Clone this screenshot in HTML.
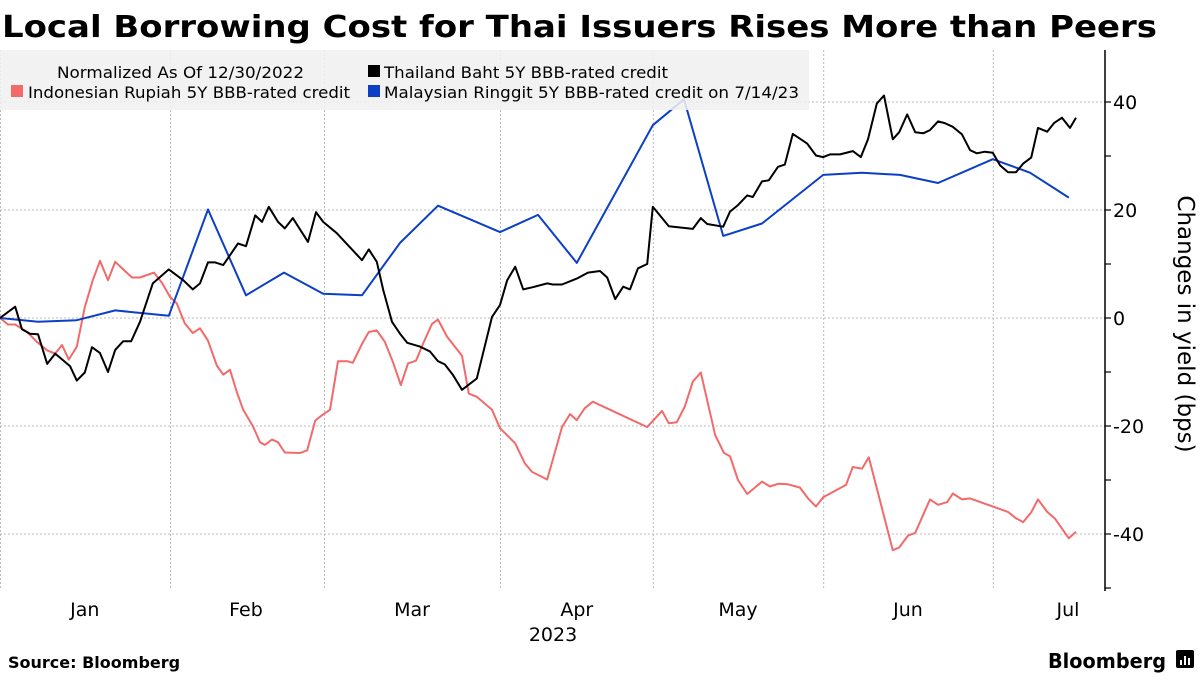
<!DOCTYPE html>
<html><head><meta charset="utf-8"><style>
html,body{margin:0;padding:0;background:#fff;}
body{width:1200px;height:675px;overflow:hidden;font-family:"DejaVu Sans",sans-serif;}
</style></head><body>
<svg id="chart" width="1200" height="675" xmlns="http://www.w3.org/2000/svg" font-family="DejaVu Sans, sans-serif">
<text x="2" y="37" font-size="30" font-weight="bold" fill="#000" textLength="1155" lengthAdjust="spacingAndGlyphs">Local Borrowing Cost for Thai Issuers Rises More than Peers</text>
<g id="grid"></g>
<g id="series"></g>
<g>
<rect x="0" y="50" width="809" height="60" fill="rgba(240,240,240,0.88)"/>
<text x="57" y="78" font-size="16" fill="#000" textLength="247" lengthAdjust="spacingAndGlyphs">Normalized As Of 12/30/2022</text>
<rect x="368" y="65" width="12" height="12" fill="#000"/>
<text x="384" y="78" font-size="16" fill="#000" textLength="284" lengthAdjust="spacingAndGlyphs">Thailand Baht 5Y BBB-rated credit</text>
<rect x="11" y="85" width="12" height="12" fill="#f26a6a"/>
<text x="28" y="98" font-size="16" fill="#000" textLength="322" lengthAdjust="spacingAndGlyphs">Indonesian Rupiah 5Y BBB-rated credit</text>
<rect x="368" y="85" width="12" height="12" fill="#0b3fc6"/>
<text x="384" y="98" font-size="16" fill="#000" textLength="415" lengthAdjust="spacingAndGlyphs">Malaysian Ringgit 5Y BBB-rated credit on 7/14/23</text>
</g>
<g id="axes"></g>
<text transform="translate(1178,324) rotate(90)" text-anchor="middle" font-size="23" fill="#000">Changes in yield (bps)</text>
<text x="553" y="641" text-anchor="middle" font-size="19" fill="#000">2023</text>
<text x="8" y="668" font-size="16" font-weight="bold" fill="#000">Source: Bloomberg</text>
<text x="1166" y="668" text-anchor="end" font-size="20" font-weight="bold" fill="#000" textLength="118" lengthAdjust="spacingAndGlyphs">Bloomberg</text>
<g><rect x="1176" y="650" width="18" height="18" rx="2" fill="#000"/><rect x="1180" y="660" width="2" height="5" fill="#fff"/><rect x="1184" y="656" width="2" height="9" fill="#fff"/><rect x="1188" y="658" width="2" height="7" fill="#fff"/></g>
</svg>
<script>
const thaiT=[0,1.9,2.75,3.75,4.75,5.9,6.9,8.75,9.6,10.6,11.5,12.5,13.5,14.4,15.4,16.4,17.5,19.1,21.1,22.9,24.1,25,26,26.9,27.9,29.75,30.75,31.9,32.75,33.6,34.75,35.6,36.6,38.5,39.5,40.4,42.1,45.25,46.1,47.1,47.9,49,50,50.9,52.5,53.75,54.75,55.6,56.6,57.75,59.6,61.5,62.5,63.4,64.4,65.4,66.6,68.4,69.1,70.25,72.1,73.5,75,75.9,76.9,77.9,78.75,79.75,80.9,81.6,83.6,86.6,87.6,88.4,90.4,91.25,92.25,93.4,94.1,95.25,96.1,97.25,98.1,99.1,100.9,102,102.9,103.75,105,106.6,107.6,108.5,109.6,110.5,111.6,112.4,113.4,114.4,115.4,116.25,117.25,118.1,119.1,120.25,121.25,122.1,123.1,124.1,125,126,127,127.9,128.9,129.75,130.9,131.75,132.75,133.75,134.5];
const thaiV=[0,2.1,-2.1,-2.9,-3,-8.5,-6.6,-8.9,-11.6,-10.1,-5.4,-6.5,-10,-5.9,-4.3,-4.3,-0.7,6.4,9,7,5.3,6.4,10.3,10.3,9.8,13.8,13.3,19,17.8,20.6,17.8,16.6,18.5,14.1,19.6,17.8,15.7,10.7,12.7,10.4,5.2,-0.7,-2.9,-4.6,-5.3,-6.2,-8,-8.6,-10.5,-13.3,-11.2,0.2,2.4,7,9.5,5.3,5.7,6.4,6.2,6.2,7.3,8.4,8.7,7.5,3.5,5.8,5.3,9.2,10,20.6,17,16.5,18.5,17.4,16.9,19.7,20.9,22.7,22.4,25.3,25.5,28,28.4,34.1,32.3,30.1,29.8,30.3,30.3,30.9,29.8,33.1,39.7,41.2,33.1,34.4,37.7,34.4,34.2,34.8,36.4,36.1,35.4,34,31.1,30.5,30.8,30.6,28.3,27,27,28.6,29.7,35.2,34.5,36.1,37.1,35.2,37.1];
const indoT=[0,1,1.9,3.4,4.6,5.9,6.9,7.75,8.6,9.6,10.6,11.6,12.5,13.5,14.4,15.4,16.5,17.5,19.25,20.25,21.25,22.1,23.1,24.1,25,26,27.1,27.9,28.75,29.6,30.4,31.6,32.5,33.1,34,34.75,35.6,37.5,38.4,39.4,40.25,41.25,42.25,43.4,44.1,45.25,46.1,47.1,48.1,49.1,50.1,51,52,52.9,54,54.75,55.9,57.75,58.6,59.6,61.5,62.5,64.4,65.6,66.5,68.4,70.25,71.25,72.1,73.1,74.1,80.9,82.75,83.6,84.6,85.6,86.6,87.6,89.4,90.5,91.25,92.25,93.4,95.25,96.25,97.25,98.5,100,101,102,102.9,105.75,106.6,107.75,108.6,111.6,112.4,113.5,114.4,116.25,117.25,118.4,119.1,120.25,121.25,126,127,127.9,128.9,129.75,130.9,131.9,133.6,134.5];
const indoV=[0,-1.2,-1.2,-2.6,-4.4,-6,-6.6,-5,-7.7,-5.3,2,7,10.6,7,10.4,9,7.5,7.5,8.4,6.5,3.9,2.7,-1,-2.8,-1.9,-4.2,-8.8,-10.5,-9.6,-13.7,-17,-20,-23,-23.5,-22.5,-23,-24.9,-25,-24.5,-19,-18,-17,-8,-8,-8.3,-4.8,-2.6,-2.3,-4.4,-8.1,-12.4,-8.4,-7.9,-4.7,-1.1,-0.3,-3.5,-7,-14,-14.6,-17,-20.4,-23.2,-26.9,-28.5,-29.9,-20.2,-17.8,-18.9,-16.7,-15.5,-20.2,-17.2,-19.5,-19.3,-16.4,-11.8,-10.1,-21.7,-25,-25.6,-30,-32.6,-30.3,-31.2,-30.7,-30.8,-31.4,-33.4,-34.9,-33.2,-30.9,-27.6,-27.9,-25.8,-43,-42.5,-40.3,-39.8,-33.6,-34.6,-34.1,-32.5,-33.6,-33.4,-35.9,-37.1,-37.8,-36,-33.6,-35.9,-37.2,-40.8,-39.6];
const malayT=[0,4.75,9.6,14.4,21.1,26,30.75,35.5,40.4,45.25,50,54.75,62.5,67.25,72.1,81.6,85.5,90.4,95.25,102.9,107.75,112.5,117.25,124.1,128.75,133.6];
const malayV=[0,-0.7,-0.4,1.4,0.4,20.1,4.2,8.4,4.5,4.2,13.9,20.8,15.9,19.1,10.2,35.7,40.5,15.2,17.5,26.5,26.9,26.5,25,29.4,26.9,22.3];
const monthLabels=["Jan","Feb","Mar","Apr","May","Jun","Jul"];
const monthLabelT=[10.6,30.75,51.5,72.1,92.25,113.5,133.5];
const monthStartT=[0,21.25,40.5,62.5,81.6,102.9,124.1];
const yTicks=[-50,-40,-30,-20,-10,0,10,20,30,40];
const yTickLabels=["-40","-20","0","20","40"];
const yLabelVals=[-40,-20,0,20,40];

const NS="http://www.w3.org/2000/svg";
const X0=0,X1=1105,T1=138.125,Y0=318,PPB=5.4;
function xs(t){return X0+(t/T1)*(X1-X0);}
function ys(v){return Y0-v*PPB;}
function mk(tag,attrs,parent){const e=document.createElementNS(NS,tag);for(const k in attrs)e.setAttribute(k,attrs[k]);parent.appendChild(e);return e;}
const grid=document.getElementById('grid'),axes=document.getElementById('axes'),series=document.getElementById('series');
yLabelVals.forEach(v=>{const l=mk('line',{x1:0,x2:X1,y1:ys(v),y2:ys(v),stroke:'#bbb','stroke-width':1,'stroke-dasharray':'2,2'},grid);

});
monthStartT.forEach(t=>{const l=mk('line',{x1:xs(t)+0.5,x2:xs(t)+0.5,y1:50,y2:590,stroke:'#bbb','stroke-width':1,'stroke-dasharray':'2,2'},grid);

});
const ax=mk('line',{x1:X1,x2:X1,y1:50,y2:591,stroke:'#000','stroke-width':1.5},axes);


yTicks.forEach(v=>{const tk=mk('line',{x1:X1,x2:X1+6,y1:ys(v),y2:ys(v),stroke:'#000','stroke-width':1.2},axes);

});
yLabelVals.forEach((v,i)=>{const tx=mk('text',{x:X1+8,y:ys(v)+7,'font-size':19,fill:'#000'},axes);tx.textContent=yTickLabels[i];

});
monthLabels.forEach((m,i)=>{const tx=mk('text',{x:xs(monthLabelT[i]),y:616,'font-size':19,fill:'#000','text-anchor':'middle'},axes);tx.textContent=m;

});
function line(T,V,color,name){const d=T.map((t,i)=>(i?'L':'M')+xs(t).toFixed(1)+','+ys(V[i]).toFixed(1)).join('');
const p=mk('path',{d:d,fill:'none',stroke:color,'stroke-width':2,'stroke-linejoin':'round'},series);

}
line(indoT,indoV,'#f26a6a','indonesia-line');
line(malayT,malayV,'#0b3fc6','malaysia-line');
line(thaiT,thaiV,'#000','thailand-line');
</script>
</body></html>
